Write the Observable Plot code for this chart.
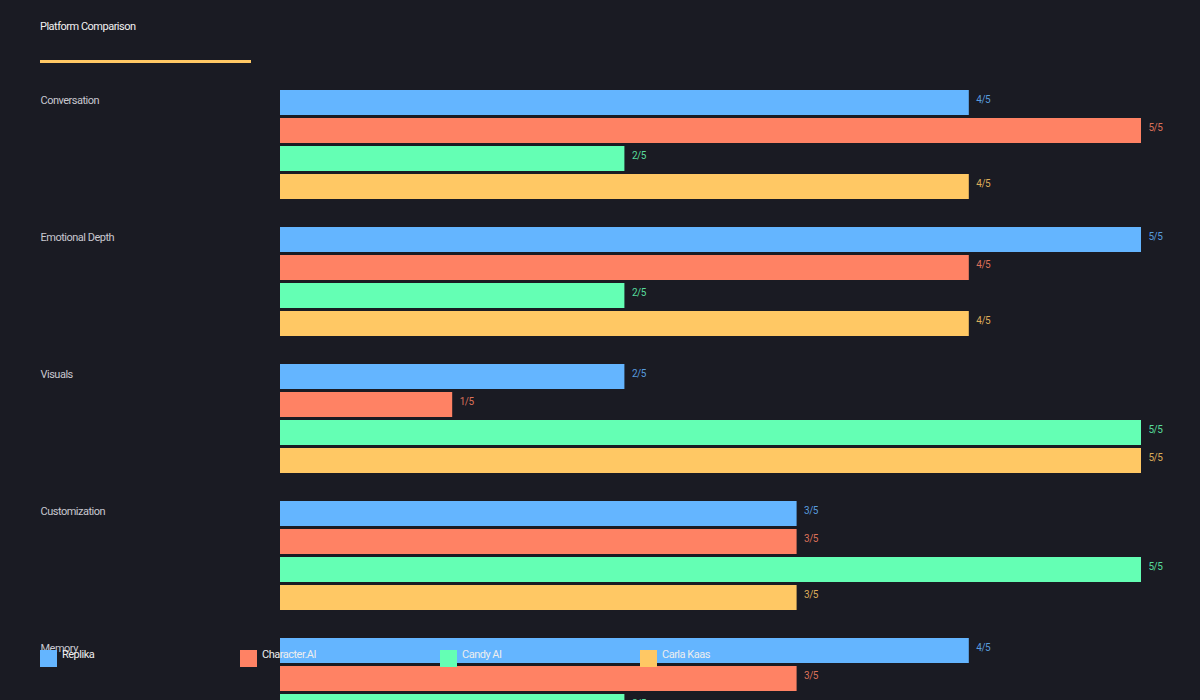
<!DOCTYPE html>
<html><head><meta charset="utf-8">
<script src="https://cdn.jsdelivr.net/npm/d3@7"></script>
<script src="https://cdn.jsdelivr.net/npm/@observablehq/plot@0.6"></script>
<style>
html,body{margin:0;padding:0;background:#1a1b23;overflow:hidden;width:1200px;height:700px;font-family:Roboto,"Noto Sans",sans-serif;}
#title{position:absolute;left:40px;top:20px;font-size:11px;color:#f2f2f2;letter-spacing:-0.5px;}
#rule{position:absolute;left:40px;top:60px;width:211px;height:3px;background:#ffc864;}
#chart{position:absolute;left:0;top:80px;}
#legend{position:absolute;left:40px;top:650px;display:flex;}
.item{width:200px;display:flex;align-items:flex-start;font-size:11px;color:#eeeeee;letter-spacing:-0.5px;}
.sw{width:17px;height:17px;margin-right:5px;flex:none;}
.item span{margin-top:-2px;line-height:13px;}
</style></head>
<body>
<div id="title">Platform Comparison</div>
<div id="rule"></div>
<div id="chart"></div>
<div id="legend"></div>
<script>
const categories = ["Conversation", "Emotional Depth", "Visuals", "Customization", "Memory"];
const series = ["Replika", "Character.AI", "Candy AI", "Carla Kaas"];
const colors = ["#64b5ff", "#ff8264", "#64ffb4", "#ffc864"];
const replika = [4, 5, 2, 3, 4];
const characterAI = [5, 4, 1, 3, 3];
const candyAI = [2, 2, 5, 5, 2];
const carlaKaas = [4, 4, 5, 3, 4];
const maxScore = 5;

const seriesValues = [replika, characterAI, candyAI, carlaKaas];
const data = [];
categories.forEach((c, i) => series.forEach((s, j) => data.push({category: c, series: s, value: seriesValues[j][i]})));

const chart = Plot.plot({
  width: 1200,
  height: 10 + 137 * 5 - 28 + 20,
  marginTop: 10,
  marginBottom: 20,
  marginLeft: 280,
  marginRight: 59,
  style: {background: "transparent", fontFamily: "Roboto, 'Noto Sans', sans-serif", letterSpacing: "-0.5px"},
  x: {domain: [0, maxScore], axis: null},
  y: {domain: series, paddingInner: 3 / 28, paddingOuter: 0, axis: null},
  fy: {domain: categories, paddingInner: 28 / 137, paddingOuter: 0, axis: null},
  color: {domain: series, range: colors},
  marks: [
    Plot.barX(data, {fy: "category", y: "series", x: "value", fill: "series"}),
    Plot.text(data, {fy: "category", y: "series", x: "value", text: d => `${d.value}/${maxScore}`,
      fill: "series", fillOpacity: 0.85, textAnchor: "start", dx: 7, dy: -3, fontSize: 10}),
    Plot.text(categories, {fy: d => d, text: d => d, frameAnchor: "top-left", dx: -240, dy: 6,
      textAnchor: "start", fill: "#c8c8d0", fontSize: 11})
  ]
});
document.getElementById("chart").appendChild(chart);

const legend = document.getElementById("legend");
series.forEach((s, i) => {
  const it = document.createElement("div");
  it.className = "item";
  it.innerHTML = `<div class="sw" style="background:${colors[i]}"></div><span>${s}</span>`;
  legend.appendChild(it);
});
</script>
</body></html>
